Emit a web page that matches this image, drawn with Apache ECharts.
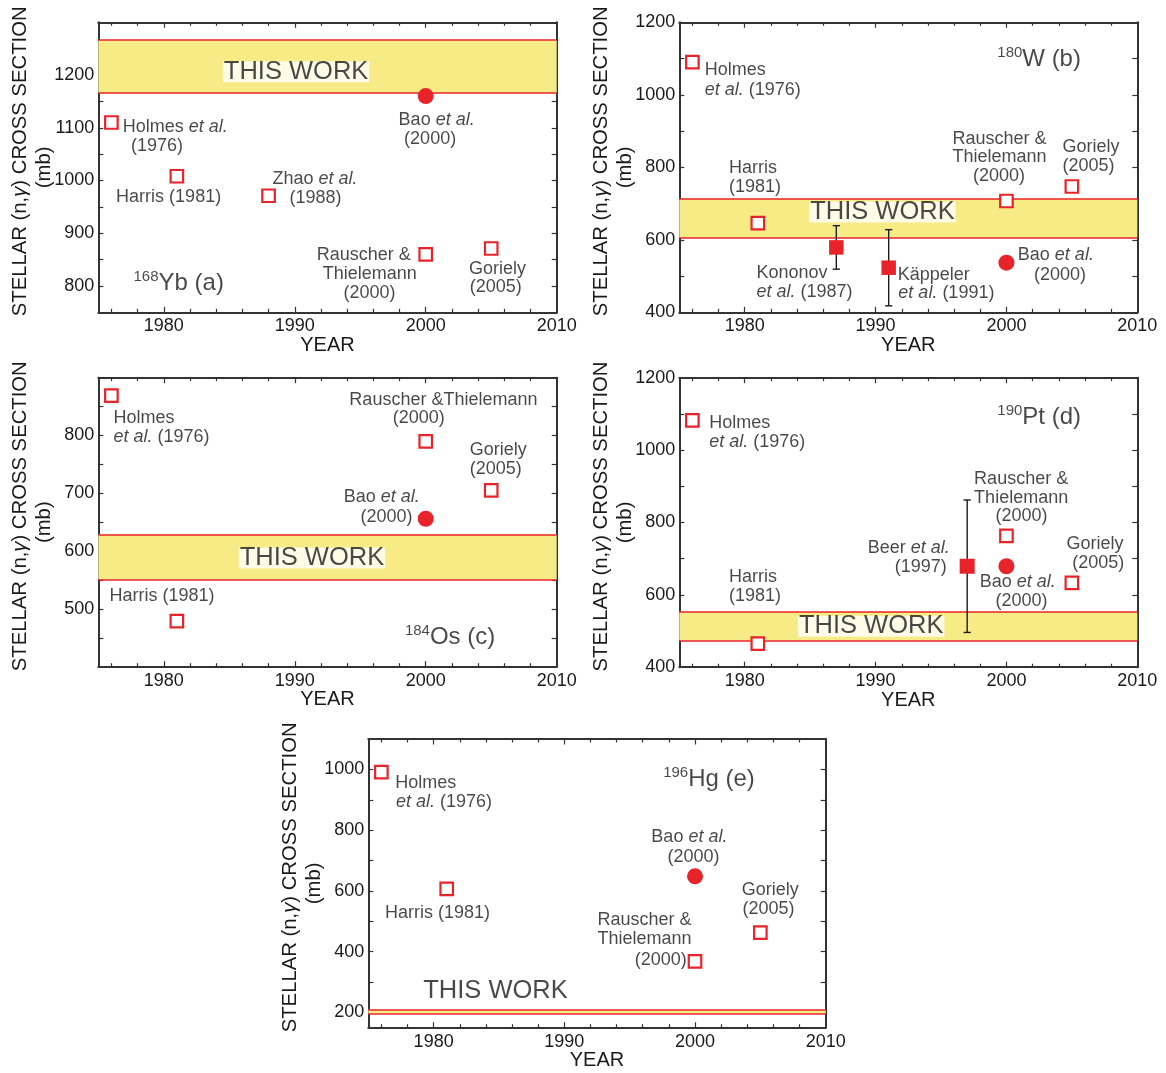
<!DOCTYPE html>
<html>
<head>
<meta charset="utf-8">
<script src="https://cdn.jsdelivr.net/npm/echarts@6/dist/echarts.min.js"></script>
<style>html,body{margin:0;padding:0;background:#fff}#c{width:1166px;height:1073px}</style>
</head>
<body>
<div id="c"></div>
<script>
// ---------------- data ----------------
const yearLabels = [1980, 1990, 2000, 2010];
const yearTicksMajor = [1980, 1990, 2000];
const yearTicksMinor = [1976, 1978, 1982, 1984, 1986, 1988, 1992, 1994, 1996, 1998, 2002, 2004, 2006, 2008];

// (a) 168Yb
const ybTheoryYears = [1976, 1981, 1988, 2000, 2005];
const ybTheoryValues = [1110, 1008, 971, 860, 871];
const ybBaoYears = [2000];
const ybBaoValues = [1160];
const ybBand = [1166, 1266];
const ybYLabels = [800, 900, 1000, 1100, 1200];
const ybYTicks = [800, 850, 900, 950, 1000, 1050, 1100, 1150, 1200, 1250];
const ybNotes = [
  [1990.1, 1206, 'THIS WORK', 'band'],
  [1976.87, 1101, 'Holmes {i|et al.}'],
  [1977.5, 1065, '(1976)'],
  [1976.36, 969, 'Harris (1981)'],
  [1988.3, 1002, 'Zhao {i|et al.}'],
  [1989.6, 967, '(1988)'],
  [1997.93, 1115, 'Bao {i|et al.}'],
  [1998.35, 1078, '(2000)'],
  [1991.68, 858, 'Rauscher &'],
  [1992.13, 822, 'Thielemann'],
  [1993.72, 787, '(2000)'],
  [2003.3, 833, 'Goriely'],
  [2003.36, 797, '(2005)'],
  [1977.69, 805, '{s|168}{b|Yb (a)}', 'iso']
];

// (b) 180W
const wTheoryYears = [1976, 1981, 2000, 2005];
const wTheoryValues = [1090, 646, 707, 747];
const wBaoYears = [2000];
const wBaoValues = [537];
const wExpYears = [1987, 1991];
const wExpValues = [579, 523];
const wExpErrors = [60, 105];
const wBand = [606, 713];
const wYLabels = [400, 600, 800, 1000, 1200];
const wYTicks = [500, 600, 700, 800, 900, 1000, 1100];
const wNotes = [
  [1999.3, 1099, '{s|180}{b|W (b)}', 'iso'],
  [1976.94, 1069, 'Holmes'],
  [1976.94, 1014, '{i|et al.} (1976)'],
  [1978.79, 798, 'Harris'],
  [1978.79, 745, '(1981)'],
  [1990.52, 677, 'THIS WORK', 'band'],
  [1980.9, 507, 'Kononov'],
  [1980.9, 455, '{i|et al.} (1987)'],
  [1991.69, 503, 'Käppeler'],
  [1991.74, 454, '{i|et al.} (1991)'],
  [1995.88, 879, 'Rauscher &'],
  [1995.88, 828, 'Thielemann'],
  [1997.45, 776, '(2000)'],
  [2004.29, 856, 'Goriely'],
  [2004.29, 804, '(2005)'],
  [2000.87, 558, 'Bao {i|et al.}'],
  [2002.1, 504, '(2000)']
];

// (c) 184Os
const osTheoryYears = [1976, 1981, 2000, 2005];
const osTheoryValues = [869, 479, 790, 705];
const osBaoYears = [2000];
const osBaoValues = [656];
const osBand = [551, 629];
const osYLabels = [500, 600, 700, 800];
const osYTicks = [450, 500, 550, 600, 650, 700, 750, 800, 850];
const osNotes = [
  [1976.16, 830, 'Holmes'],
  [1976.16, 797, '{i|et al.} (1976)'],
  [1994.17, 862, 'Rauscher &Thielemann'],
  [1997.48, 830, '(2000)'],
  [2003.36, 775, 'Goriely'],
  [2003.36, 742, '(2005)'],
  [1993.74, 693, 'Bao {i|et al.}'],
  [1995.02, 659, '(2000)'],
  [1991.31, 588, 'THIS WORK', 'band'],
  [1975.85, 522, 'Harris (1981)'],
  [1998.41, 450, '{s|184}{b|Os (c)}', 'iso']
];

// (d) 190Pt
const ptTheoryYears = [1976, 1981, 2000, 2005];
const ptTheoryValues = [1082, 465, 763, 633];
const ptBaoYears = [2000];
const ptBaoValues = [679];
const ptExpYears = [1997];
const ptExpValues = [679];
const ptExpErrors = [183];
const ptBand = [473, 553];
const ptYLabels = [400, 600, 800, 1000, 1200];
const ptYTicks = [500, 600, 700, 800, 900, 1000, 1100];
const ptNotes = [
  [1999.3, 1091, '{s|190}{b|Pt (d)}', 'iso'],
  [1977.28, 1074, 'Holmes'],
  [1977.28, 1023, '{i|et al.} (1976)'],
  [1997.53, 921, 'Rauscher &'],
  [1997.53, 868, 'Thielemann'],
  [1999.16, 817, '(2000)'],
  [1989.4, 730, 'Beer {i|et al.}'],
  [1991.46, 678, '(1997)'],
  [2004.58, 740, 'Goriely'],
  [2005.03, 687, '(2005)'],
  [1997.96, 635, 'Bao {i|et al.}'],
  [1999.16, 583, '(2000)'],
  [1978.79, 650, 'Harris'],
  [1978.79, 598, '(1981)'],
  [1989.66, 513, 'THIS WORK', 'band']
];

// (e) 196Hg
const hgTheoryYears = [1976, 1981, 2000, 2005];
const hgTheoryValues = [991, 607, 368, 463];
const hgBaoYears = [2000];
const hgBaoValues = [648];
const hgBand = [196, 210];
const hgYLabels = [200, 400, 600, 800, 1000];
const hgYTicks = [200, 300, 400, 500, 600, 700, 800, 900, 1000];
const hgNotes = [
  [1997.56, 967, '{s|196}{b|Hg (e)}', 'iso'],
  [1977.06, 954, 'Holmes'],
  [1977.12, 892, '{i|et al.} (1976)'],
  [1976.27, 526, 'Harris (1981)'],
  [1996.66, 777, 'Bao {i|et al.}'],
  [1997.9, 712, '(2000)'],
  [2003.58, 603, 'Goriely'],
  [2003.64, 541, '(2005)'],
  [1992.53, 503, 'Rauscher &'],
  [1992.53, 441, 'Thielemann'],
  [1995.38, 374, '(2000)'],
  [1984.73, 270, 'THIS WORK', 'band']
];

// ---------------- styling / layout ----------------
const RED = '#e8232a', YEL = '#f7eb86', INK = '#1a1a1a', FRAME = '#333';
const FONT = '"Liberation Sans", Arial, Helvetica, sans-serif';
const plain = v => String(v);

const panels = [
  { grid: {left: 98.3, top: 22.3, width: 458.4, height: 290}, yMin: 750, yMax: 1300,
    yLabels: ybYLabels, yTicks: ybYTicks, thX: ybTheoryYears, thY: ybTheoryValues,
    baoX: ybBaoYears, baoY: ybBaoValues, band: ybBand, notes: ybNotes },
  { grid: {left: 679.3, top: 22.3, width: 458, height: 290}, yMin: 400, yMax: 1200,
    yLabels: wYLabels, yTicks: wYTicks, thX: wTheoryYears, thY: wTheoryValues,
    baoX: wBaoYears, baoY: wBaoValues, band: wBand, notes: wNotes,
    expX: wExpYears, expY: wExpValues, expE: wExpErrors, expSize: 14.5 },
  { grid: {left: 98.3, top: 377.7, width: 458.4, height: 289}, yMin: 400, yMax: 900,
    yLabels: osYLabels, yTicks: osYTicks, thX: osTheoryYears, thY: osTheoryValues,
    baoX: osBaoYears, baoY: osBaoValues, band: osBand, notes: osNotes },
  { grid: {left: 679.3, top: 377.7, width: 458, height: 289.5}, yMin: 400, yMax: 1200,
    yLabels: ptYLabels, yTicks: ptYTicks, thX: ptTheoryYears, thY: ptTheoryValues,
    baoX: ptBaoYears, baoY: ptBaoValues, band: ptBand, notes: ptNotes,
    expX: ptExpYears, expY: ptExpValues, expE: ptExpErrors, expSize: 15 },
  { grid: {left: 368.3, top: 739, width: 457.4, height: 288.7}, yMin: 150, yMax: 1100,
    yLabels: hgYLabels, yTicks: hgYTicks, thX: hgTheoryYears, thY: hgTheoryValues,
    baoX: hgBaoYears, baoY: hgBaoValues, band: hgBand, notes: hgNotes }
];

function xAxisDef(gi, pos, major, withLabels) {
  return {
    type: 'value', gridIndex: gi, position: pos, min: 1975, max: 2010,
    axisLine: {show: major, onZero: false, lineStyle: {color: FRAME, width: 2}},
    axisTick: {show: true, inside: true, length: major ? 5.5 : 3.5,
      customValues: major ? yearTicksMajor : yearTicksMinor,
      lineStyle: {color: FRAME, width: 1.2}},
    axisLabel: {show: withLabels, customValues: yearLabels, margin: 5, formatter: plain,
      fontSize: 18, color: INK, fontFamily: FONT},
    splitLine: {show: false},
    name: withLabels ? 'YEAR' : '', nameLocation: 'middle', nameGap: 23, nameMoveOverlap: false,
    nameTextStyle: {fontSize: 20, lineHeight: 20, color: INK, fontFamily: FONT}
  };
}

function yAxisDef(gi, pos, p, main) {
  return {
    type: 'value', gridIndex: gi, position: pos, min: p.yMin, max: p.yMax,
    axisLine: {show: true, onZero: false, lineStyle: {color: FRAME, width: 2}},
    axisTick: {show: true, inside: true, length: 5, customValues: p.yTicks,
      lineStyle: {color: FRAME, width: 1.2}},
    axisLabel: {show: main, customValues: p.yLabels, margin: 4, formatter: plain,
      fontSize: 18, color: INK, fontFamily: FONT},
    splitLine: {show: false},
    name: main ? '{sp| }STELLAR (n,{g|γ}) CROSS SECTION\n(mb)' : '',
    nameLocation: 'middle', nameRotate: 90, nameGap: 41.5, nameMoveOverlap: false,
    nameTextStyle: {
      fontSize: 20.3, lineHeight: 24, color: INK, fontFamily: FONT,
      rich: {
        sp: {width: 12, fontSize: 20.3, lineHeight: 24},
        g: {fontStyle: 'italic', fontSize: 20.3, lineHeight: 24, color: INK, fontFamily: FONT}
      }
    }
  };
}

const richStyles = {
  i: {fontStyle: 'italic', fontSize: 18, color: INK, fontFamily: FONT},
  s: {fontSize: 15, lineHeight: 16, verticalAlign: 'top', color: INK, fontFamily: FONT},
  b: {fontSize: 24, lineHeight: 28, color: INK, fontFamily: FONT}
};

const option = {animation: false, backgroundColor: '#fff', grid: [], xAxis: [], yAxis: [], series: []};

panels.forEach((p, gi) => {
  option.grid.push(Object.assign({outerBoundsMode: 'none', containLabel: false}, p.grid));
  const xi = option.xAxis.length;
  option.xAxis.push(
    xAxisDef(gi, 'bottom', true, true),
    xAxisDef(gi, 'bottom', false, false),
    xAxisDef(gi, 'top', true, false),
    xAxisDef(gi, 'top', false, false)
  );
  const yi = option.yAxis.length;
  option.yAxis.push(yAxisDef(gi, 'left', p, true), yAxisDef(gi, 'right', p, false));

  // band
  option.series.push({
    type: 'line', xAxisIndex: xi, yAxisIndex: yi, data: [], silent: true, z: 1,
    markArea: {silent: true, itemStyle: {color: YEL}, data: [[{yAxis: p.band[0]}, {yAxis: p.band[1]}]]},
    markLine: {silent: true, symbol: 'none', label: {show: false},
      lineStyle: {color: RED, width: 1.5, type: 'solid'},
      data: [{yAxis: p.band[0]}, {yAxis: p.band[1]}]}
  });

  // theory: open squares
  option.series.push({
    type: 'scatter', xAxisIndex: xi, yAxisIndex: yi, silent: true, z: 10,
    symbol: 'rect', symbolSize: 12.5,
    itemStyle: {color: '#fff', borderColor: RED, borderWidth: 2.2, opacity: 1},
    data: p.thX.map((x, i) => [x, p.thY[i]])
  });

  // Bao: filled circle
  option.series.push({
    type: 'scatter', xAxisIndex: xi, yAxisIndex: yi, silent: true, z: 10,
    symbol: 'circle', symbolSize: 16, itemStyle: {color: RED, opacity: 1},
    data: p.baoX.map((x, i) => [x, p.baoY[i]])
  });

  // experiments with error bars
  if (p.expX) {
    option.series.push({
      type: 'custom', xAxisIndex: xi, yAxisIndex: yi, silent: true, z: 9,
      data: p.expX.map((x, i) => [x, p.expY[i] - p.expE[i], p.expY[i] + p.expE[i]]),
      renderItem: (params, api) => {
        const x = api.value(0);
        const lo = api.coord([x, api.value(1)]);
        const hi = api.coord([x, api.value(2)]);
        const w = 3.6;
        const st = {stroke: INK, lineWidth: 1.4};
        return {type: 'group', children: [
          {type: 'line', shape: {x1: lo[0], y1: lo[1], x2: hi[0], y2: hi[1]}, style: st},
          {type: 'line', shape: {x1: lo[0] - w, y1: lo[1], x2: lo[0] + w, y2: lo[1]}, style: st},
          {type: 'line', shape: {x1: hi[0] - w, y1: hi[1], x2: hi[0] + w, y2: hi[1]}, style: st}
        ]};
      }
    });
    option.series.push({
      type: 'scatter', xAxisIndex: xi, yAxisIndex: yi, silent: true, z: 10,
      symbol: 'rect', symbolSize: p.expSize, itemStyle: {color: RED, opacity: 1},
      data: p.expX.map((x, i) => [x, p.expY[i]])
    });
  }

  // text annotations
  option.series.push({
    type: 'scatter', xAxisIndex: xi, yAxisIndex: yi, silent: true, z: 12,
    symbolSize: 0.1, itemStyle: {color: 'transparent'},
    labelLayout: {hideOverlap: false},
    data: p.notes.map(n => {
      const kind = n[3];
      const label = {
        show: true, position: 'inside', formatter: n[2],
        align: kind === 'band' ? 'center' : 'left', verticalAlign: 'middle',
        fontSize: 18, color: INK, fontFamily: FONT, rich: richStyles
      };
      if (kind === 'band') {
        Object.assign(label, {fontSize: 25.5, lineHeight: 21, backgroundColor: '#fff', padding: [0, 1, 0, 1]});
      }
      return {value: [n[0], n[1]], label: label};
    })
  });
});

const chart = echarts.init(document.getElementById('c'), null, {renderer: 'canvas'});
chart.setOption(option);
</script>
</body>
</html>
